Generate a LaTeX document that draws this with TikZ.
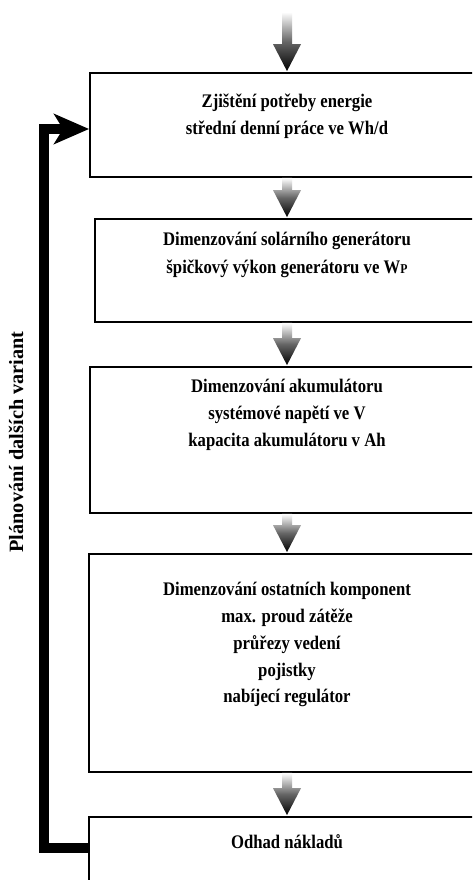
\documentclass[tikz,border=0pt]{standalone}
\usepackage{fontspec}
\setmainfont{Liberation Serif}
\newfontfamily\boxfont[FakeStretch=0.87]{Liberation Serif}
\usetikzlibrary{arrows.meta,calc}

% shaded downward arrow between two anchors
\newcommand\gradarrow[2]{%
  \shade[flowarrow] ($(#1)+(-5,0)$) -- ($(#1)+(5,0)$) -- ($(#2)+(5,-28)$)
    -- ($(#2)+(14,-28)$) -- ($(#2)+(0,-1)$) -- ($(#2)+(-14,-28)$)
    -- ($(#2)+(-5,-28)$) -- cycle;}

\begin{document}
\begin{tikzpicture}[x=1pt,y=-1pt,
  box/.style={draw, line width=1.8pt, inner sep=0pt},
  txt/.style={font=\boxfont\fontsize{19.2}{27}\selectfont\bfseries, anchor=base, inner sep=0pt},
  flowarrow/.style={top color=white, bottom color=black, middle color=gray!80!black, draw=none},
  loopline/.style={line width=10pt, line join=miter, -{Stealth[length=35pt,width=30pt,inset=9pt]}}]
\useasboundingbox (0,0) rectangle (472,880);
\fill[white] (0,0) rectangle (472,880);
\clip (0,0) rectangle (472,880);

% process boxes
\node[box, minimum width=394pt, minimum height=104pt] (b1) at (287,125) {};
\node[box, minimum width=384pt, minimum height=103pt] (b2) at (287,270.5) {};
\node[box, minimum width=394pt, minimum height=146pt] (b3) at (287,440) {};
\node[box, minimum width=396pt, minimum height=218pt] (b4) at (287,663) {};
\node[box, minimum width=396pt, minimum height=104pt] (b5) at (287,869) {};

% box texts
\node[txt] (t1a) at (287,108) {Zjištění potřeby energie};
\node[txt] (t1b) at (287,135) {střední denní práce ve Wh/d};
\node[txt] (t2a) at (287,245) {Dimenzování solárního generátoru};
\node[txt] (t2b) at (287,273) {špičkový výkon generátoru ve W{\fontsize{13.5}{13.5}\selectfont P}};
\node[txt] (t3a) at (287,392) {Dimenzování akumulátoru};
\node[txt] (t3b) at (287,419) {systémové napětí ve V};
\node[txt] (t3c) at (287,446) {kapacita akumulátoru v Ah};
\node[txt] (t4a) at (287,595) {Dimenzování ostatních komponent};
\node[txt] (t4b) at (287,622) {max. proud zátěže};
\node[txt] (t4c) at (287,649) {průřezy vedení};
\node[txt] (t4d) at (287,676) {pojistky};
\node[txt] (t4e) at (287,702) {nabíjecí regulátor};
\node[txt] (t5a) at (287,848) {Odhad nákladů};

% flow arrows
\coordinate (in) at (287,12);
\gradarrow{in}{b1.north}
\gradarrow{b1.south}{b2.north}
\gradarrow{b2.south}{b3.north}
\gradarrow{b3.south}{b4.north}
\gradarrow{b4.south}{b5.north}

% feedback loop
\draw[loopline] ([yshift=21pt]b5.west) -- ++(-44,0) |- ([yshift=-4pt]b1.west);
\node[anchor=center, rotate=90, inner sep=0pt, font=\fontsize{20.3}{24}\selectfont\bfseries] (loop) at (16,442) {Plánování dalších variant};
\end{tikzpicture}
\end{document}
